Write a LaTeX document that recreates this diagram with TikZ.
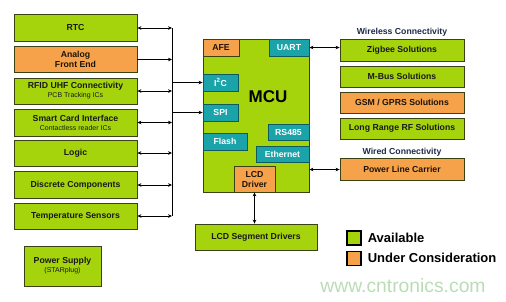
\documentclass[tikz,border=0pt]{standalone}
\usepackage{fontspec}
\setmainfont{Liberation Sans}
\usetikzlibrary{arrows.meta}

\definecolor{avail}{HTML}{A6D40C}
\definecolor{consid}{HTML}{F6A24A}
\definecolor{periph}{HTML}{1AA3A8}
\definecolor{edge}{HTML}{3A4214}
\definecolor{webgreen}{HTML}{B9DDB4}
\definecolor{headtxt}{HTML}{1C2A48}

\newcommand{\subline}[1]{\\[-1pt]{\mdseries\fontsize{7}{8}\selectfont #1}}

\tikzset{
  blk/.style={draw=edge, line width=0.8pt, inner sep=0pt, align=center,
    text=black!90, font=\bfseries\fontsize{8.7}{10}\selectfont},
  greenblk/.style={blk, fill=avail},
  orangeblk/.style={blk, fill=consid, text=black!85!brown},
  tealblk/.style={blk, fill=periph, draw=periph!55!black, text=white},
  leftblk/.style={minimum width=123pt, minimum height=26pt},
  rightblk/.style={minimum width=124pt, minimum height=21pt},
  keybox/.style={draw=black, line width=1.8pt, minimum size=14pt, inner sep=0pt},
  keytxt/.style={anchor=west, font=\bfseries\fontsize{13}{15}\selectfont},
  grouptxt/.style={text=headtxt, font=\bfseries\fontsize{8.7}{10}\selectfont},
}

\begin{document}
\begin{tikzpicture}[x=1pt, y=-1pt, line width=0.9pt, >={Stealth[length=4pt,width=3.6pt]}]
\useasboundingbox (0,0) rectangle (506,301);

% left side peripherals
\node[greenblk, leftblk, minimum height=27pt] (rtc) at (75.5,28) {RTC};
\node[orangeblk, leftblk] (afeblk) at (75.5,59.5) {Analog\\Front End};
\node[greenblk, leftblk] (rfid) at (75.5,91) {RFID UHF Connectivity\subline{PCB Tracking ICs}};
\node[greenblk, leftblk, minimum height=27pt] (smart) at (75.5,122.5) {Smart Card Interface\subline{Contactless reader ICs}};
\node[greenblk, leftblk] (logic) at (75.5,153) {Logic};
\node[greenblk, leftblk, minimum height=27pt] (discrete) at (75.5,185) {Discrete Components};
\node[greenblk, leftblk] (temp) at (75.5,216) {Temperature Sensors};
\node[greenblk, minimum width=77pt, minimum height=40pt] (power) at (62.5,266) {Power Supply\subline{(STARplug)}};

% microcontroller
\node[greenblk, minimum width=106pt, minimum height=153pt] (mcu) at (256,115.5) {};
\node[font=\bfseries\fontsize{17}{19}\selectfont, text=black] (mculbl) at (268,97) {MCU};
\node[orangeblk, minimum width=36pt, minimum height=17pt] (afe) at (221,47.5) {AFE};
\node[tealblk, minimum width=40pt, minimum height=17pt] (uart) at (289,47.5) {UART};
\node[tealblk, minimum width=35pt, minimum height=17pt] (i2c) at (220.5,82.5) {I\textsuperscript{2}C};
\node[tealblk, minimum width=35pt, minimum height=17pt] (spi) at (220.5,112.5) {SPI};
\node[tealblk, minimum width=44pt, minimum height=17pt] (flash) at (225,141.5) {Flash};
\node[tealblk, minimum width=41pt, minimum height=16pt] (rs485) at (288.5,132) {RS485};
\node[tealblk, minimum width=53pt, minimum height=16pt] (eth) at (282.5,154) {Ethernet};
\node[orangeblk, minimum width=41pt, minimum height=26pt] (lcd) at (254.5,179) {LCD\\Driver};
\node[greenblk, minimum width=122pt, minimum height=26pt] (lcdseg) at (256,237) {LCD Segment Drivers};

% right side connectivity
\node[grouptxt] (wless) at (402,32) {Wireless Connectivity};
\node[greenblk, rightblk, minimum height=22pt] (zigbee) at (402,50) {Zigbee Solutions};
\node[greenblk, rightblk] (mbus) at (402,76.5) {M-Bus Solutions};
\node[orangeblk, rightblk] (gsm) at (402,102.5) {GSM / GPRS Solutions};
\node[greenblk, rightblk] (lrrf) at (402,128.5) {Long Range RF Solutions};
\node[grouptxt] (wired) at (402,152) {Wired Connectivity};
\node[orangeblk, rightblk, minimum height=22pt] (plc) at (402,169.5) {Power Line Carrier};

% legend
\node[keybox, fill=avail] (keyavail) at (354,238) {};
\node[keybox, fill=consid] (keyconsid) at (354,258.5) {};
\node[keytxt] (availtxt) at (364,237.5) {Available};
\node[keytxt] (considtxt) at (364,258) {Under Consideration};
\node[text=webgreen, font=\fontsize{19.3}{21}\selectfont] (web) at (403,286) {www.cntronics.com};

% bus
\coordinate (bus) at (172,0);
\draw (rtc.east -| bus) -- (temp.east -| bus);
\draw[<->] (rtc.east) -- (rtc.east -| bus);
\draw[->] (afeblk.east) -- (afeblk.east -| bus);
\draw[<->] (rfid.east) -- (rfid.east -| bus);
\draw[<->] (smart.east) -- (smart.east -| bus);
\draw[<->] (logic.east) -- (logic.east -| bus);
\draw[<->] (discrete.east) -- (discrete.east -| bus);
\draw[<->] (temp.east) -- (temp.east -| bus);
\draw[->] (i2c.west -| bus) -- (i2c.west);
\draw[->] (spi.west -| bus) -- (spi.west);

\draw[<->] (uart.east) -- (uart.east -| zigbee.west);
\draw[<->] (plc.west -| mcu.east) -- (plc.west);
\draw[<->] (lcd.south) -- (lcd.south |- lcdseg.north);
\end{tikzpicture}
\end{document}
